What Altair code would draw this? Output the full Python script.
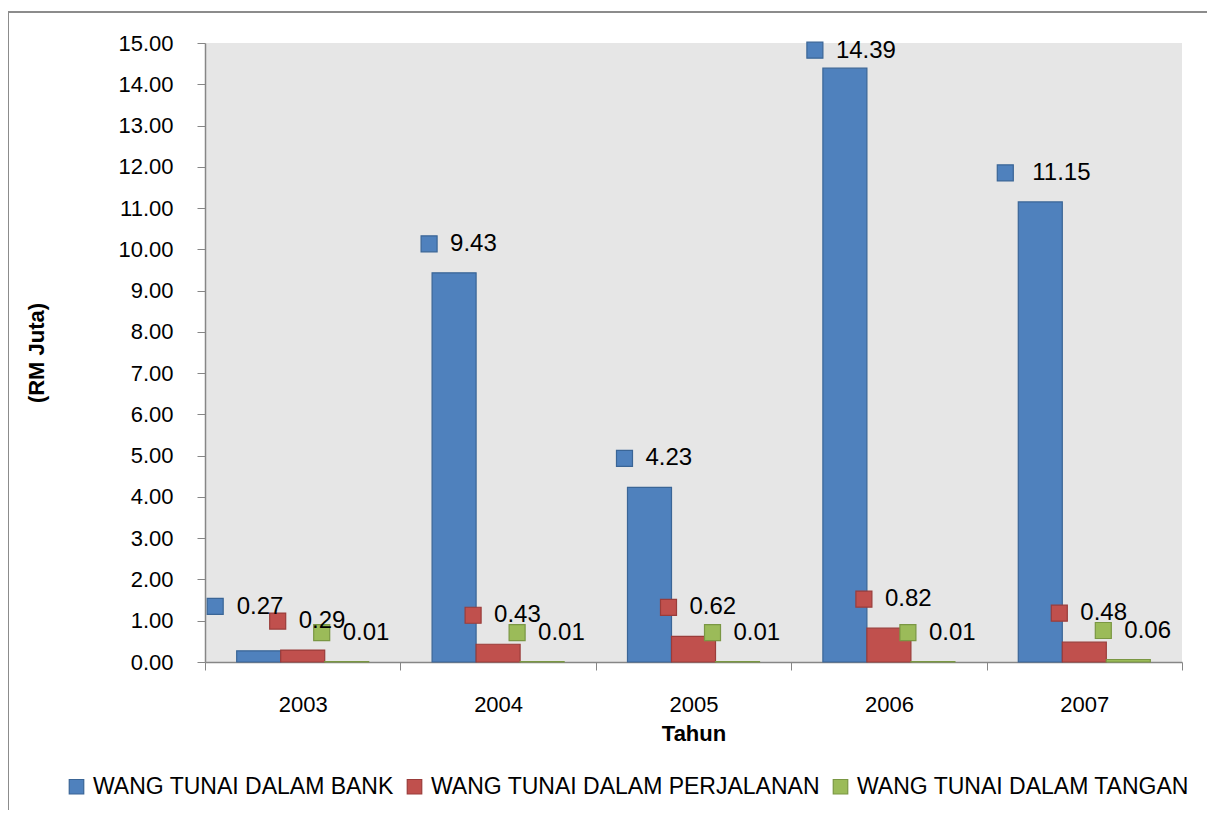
import altair as alt
import pandas as pd

years = ["2003", "2004", "2005", "2006", "2007"]
series = ["WANG TUNAI DALAM BANK", "WANG TUNAI DALAM PERJALANAN", "WANG TUNAI DALAM TANGAN"]
bank = [0.27, 9.43, 4.23, 14.39, 11.15]
perjalanan = [0.29, 0.43, 0.62, 0.82, 0.48]
tangan = [0.01, 0.01, 0.01, 0.01, 0.06]
y_ticks = list(range(0, 16))

fills = ["#4F81BD", "#C0504D", "#9BBB59"]
strokes = ["#3A6596", "#9A3C3A", "#7A9743"]

rows = []
for vals, s in zip([bank, perjalanan, tangan], series):
    for yr, v in zip(years, vals):
        rows.append({"Tahun": yr, "Siri": s, "Nilai": v, "Label": f"{v:.2f}"})
df = pd.DataFrame(rows)

FONT = "Liberation Sans"
BAR_HALF = 22  # half of a bar's width in px (for label placement)

x_enc = alt.X(
    "Tahun:N",
    sort=years,
    scale=alt.Scale(paddingInner=0, paddingOuter=0),
    axis=alt.Axis(
        title="Tahun", tickBand="extent", labelAngle=0, tickSize=8,
        labelPadding=24, titlePadding=8, labelFontSize=22, titleFontSize=22,
        titleFontWeight="bold",
    ),
)
xoff_enc = alt.XOffset(
    "Siri:N", sort=series,
    scale=alt.Scale(domain=series, paddingInner=0, paddingOuter=0.72),
)
y_enc = alt.Y(
    "Nilai:Q",
    scale=alt.Scale(domain=[0, 15], nice=False),
    axis=alt.Axis(
        values=y_ticks, format=".2f", title="(RM Juta)", grid=False, tickSize=8,
        labelPadding=24, labelFontSize=22, titleFontSize=22, titleFontWeight="bold",
        titleX=-169, titleY=309.5, titleAngle=270, titleAlign="center",
        titleBaseline="middle",
    ),
)
legend = alt.Legend(symbolType="square", title=None)
fill_enc = alt.Fill("Siri:N", sort=series, title=None, legend=legend,
                    scale=alt.Scale(domain=series, range=fills))
stroke_enc = alt.Stroke("Siri:N", sort=series, title=None, legend=legend,
                        scale=alt.Scale(domain=series, range=strokes))
fill_nl = alt.Fill("Siri:N", sort=series, legend=None,
                   scale=alt.Scale(domain=series, range=fills))
stroke_nl = alt.Stroke("Siri:N", sort=series, legend=None,
                       scale=alt.Scale(domain=series, range=strokes))

base = alt.Chart(df)

bars = base.mark_bar(strokeWidth=1.2).encode(
    x=x_enc, xOffset=xoff_enc, y=y_enc, fill=fill_enc, stroke=stroke_enc
)

# Label placement (px, relative to the bar's top-left corner), like the manually
# arranged data labels of the original chart.
default_pos = {"mx": -3, "my": -29, "tx": 18, "ty": -29}
special_pos = {
    (series[0], "2003"): {"mx": -21.5, "my": -44.5, "tx": 0, "ty": -44},
    (series[0], "2006"): {"mx": -8, "my": -18, "tx": 13, "ty": -17},
    (series[0], "2007"): {"mx": -13, "my": -29, "tx": 14, "ty": -29},
}


def label_layers(pos, flt):
    u = 8.0  # px per symbol-path unit (sqrt(256)/2)
    cx = (pos["mx"] - BAR_HALF) / u
    cy = pos["my"] / u
    path = (f"M {cx - 1:.4f} {cy - 1:.4f} H {cx + 1:.4f} V {cy + 1:.4f} "
            f"H {cx - 1:.4f} Z")
    m = base.transform_filter(flt).mark_point(
        shape=path, size=256, filled=True, opacity=1, strokeWidth=1.2
    ).encode(x=x_enc, xOffset=xoff_enc, y=y_enc, fill=fill_nl, stroke=stroke_nl)
    t = base.transform_filter(flt).mark_text(
        align="left", baseline="middle", dx=pos["tx"] - BAR_HALF, dy=pos["ty"],
        fontSize=24, font=FONT, color="black",
    ).encode(x=x_enc, xOffset=xoff_enc, y=y_enc, text="Label:N")
    return [m, t]


special_tests = [
    f"(datum.Siri === '{s}' && datum.Tahun === '{y}')" for (s, y) in special_pos
]
layers = label_layers(default_pos, "!(" + " || ".join(special_tests) + ")")
for (s, y), pos in special_pos.items():
    layers += label_layers(pos, f"datum.Siri === '{s}' && datum.Tahun === '{y}'")

frame = alt.Chart(pd.DataFrame({"a": [0]})).mark_rect(
    fill="transparent", stroke="#8C8C8C", strokeWidth=2
).encode(
    x=alt.value(-197), x2=alt.value(1005), y=alt.value(-31), y2=alt.value(800)
)

chart = alt.layer(frame, bars, *layers).properties(
    width=977, height=619,
    autosize=alt.AutoSizeParams(type="none"),
    padding={"left": 197, "top": 35, "right": 25, "bottom": 148},
).configure_view(
    fill="#E6E6E6", strokeWidth=0
).configure_axis(
    domainColor="#868686", tickColor="#868686", labelColor="black",
    titleColor="black", labelFont=FONT, titleFont=FONT, domainWidth=1.5,
).configure_legend(
    orient="none", legendX=-140, legendY=732, direction="horizontal",
    labelFont=FONT, labelFontSize=23, labelColor="black", labelLimit=0,
    symbolType="square", symbolSize=210, symbolStrokeWidth=1.2,
    columnPadding=9, labelOffset=5,
)

chart.save("out.html", embed_options={"renderer": "svg", "actions": False})
